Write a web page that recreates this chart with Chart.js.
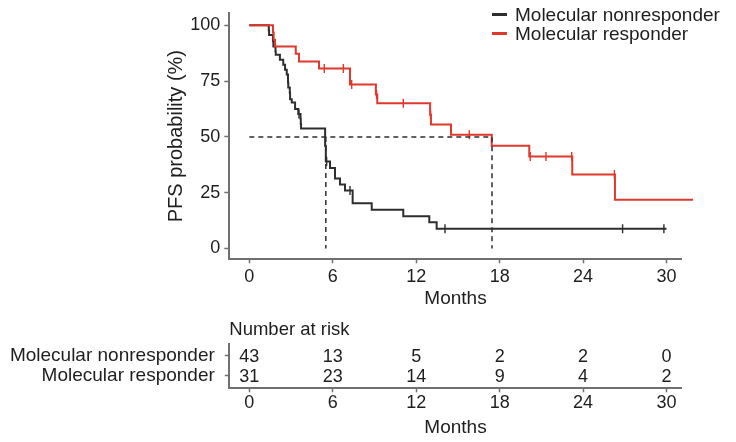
<!DOCTYPE html>
<html>
<head>
<meta charset="utf-8">
<script src="https://cdn.jsdelivr.net/npm/chart.js@4.4.1/dist/chart.umd.min.js"></script>
<style>
  html, body { margin: 0; padding: 0; background: #fff; }
  .box { position: absolute; left: 0; width: 736px; }
</style>
</head>
<body>
<div class="box" style="top:0;height:310px"><canvas id="km" width="736" height="310"></canvas></div>
<div class="box" style="top:310px;height:132px"><canvas id="risk" width="736" height="132"></canvas></div>
<script>
// groups, ticks
const groups = ["Molecular nonresponder", "Molecular responder"];
const monthTicks = [0, 6, 12, 18, 24, 30];
const pfsTicks = [0, 25, 50, 75, 100];

// KM steps (months, PFS %)
const nonTime = [0, 1.4, 1.42, 1.7, 1.73, 1.88, 1.9, 2.2, 2.44, 2.57, 2.69, 2.78, 2.8, 2.91, 2.93, 3.05, 3.29, 3.52, 3.68, 3.7, 3.72, 5.45, 5.5, 5.8, 6.16, 6.52, 6.88, 7.43, 8.8, 11.07, 12.94, 13.47, 30.0];
const nonPfs  = [100, 97.7, 95.6, 93.0, 90.5, 88.4, 86.8, 84.6, 82.3, 80.1, 77.9, 74.4, 72.1, 69.8, 66.9, 65.4, 62.5, 60.3, 58.1, 55.8, 53.7, 46.0, 39.0, 36.0, 31.3, 28.7, 26.0, 20.3, 17.3, 14.4, 11.7, 8.8, 8.8];
const nonCensTime = [3.57, 5.56, 7.24, 14.07, 26.84, 29.81];
const nonCensPfs  = [60.3, 39.0, 26.0, 8.8, 8.8, 8.8];

const respTime = [0, 1.7, 1.75, 1.85, 3.34, 3.57, 5.01, 7.24, 9.1, 9.2, 13.0, 13.06, 14.5, 17.43, 20.13, 23.22, 26.29, 31.9];
const respPfs  = [100, 96.8, 93.5, 90.5, 87.2, 83.8, 80.6, 73.5, 69.0, 65.1, 59.9, 55.6, 51.0, 46.0, 41.2, 33.1, 21.8, 21.8];
const respCensTime = [5.39, 6.76, 7.36, 9.15, 11.07, 13.03, 15.82, 20.2, 21.33, 23.18, 26.25];
const respCensPfs  = [80.6, 80.6, 73.5, 69.0, 65.1, 59.9, 51.0, 41.2, 41.2, 41.2, 33.1];

// median PFS guides
const medianPfs = 50;
const medianNon = 5.5;
const medianResp = 17.45;

// number at risk at monthTicks
const nonRisk  = [43, 13, 5, 2, 2, 0];
const respRisk = [31, 23, 14, 9, 4, 2];

const BLACK = "#2e2e2e", RED = "#e0382c", AXIS = "#707070", TEXT = "#1e1e1e";
const FONT = "'Liberation Sans', Arial, sans-serif";
Chart.defaults.font.family = FONT;
Chart.defaults.font.size = 18;
Chart.defaults.color = TEXT;

const pts = (xs, ys) => xs.map((x, i) => ({ x: x, y: ys[i] }));

function axisX(h, pad, titlePad) {
  return {
    type: "linear", min: -1.44, max: 31.09,
    afterBuildTicks: s => { s.ticks = monthTicks.map(v => ({ value: v })); },
    afterFit: s => { s.height = h; },
    ticks: { padding: pad, maxRotation: 0, autoSkip: false, color: TEXT },
    grid: { drawOnChartArea: false, tickLength: 4, tickWidth: 1.5, tickColor: AXIS },
    border: { color: AXIS, width: 2 },
    title: { display: true, text: "Months", color: TEXT, font: { size: 19 },
             padding: { top: 0, bottom: titlePad } }
  };
}

const legendPlugin = {
  id: "kmLegend",
  afterDraw(chart) {
    const ctx = chart.ctx;
    const items = [[groups[0], BLACK], [groups[1], RED]];
    ctx.save();
    ctx.font = "19px " + FONT;
    ctx.textBaseline = "middle";
    ctx.textAlign = "left";
    items.forEach((it, i) => {
      const y = 14.5 + i * 19;
      ctx.strokeStyle = it[1];
      ctx.lineWidth = 3;
      ctx.beginPath(); ctx.moveTo(492, y); ctx.lineTo(507, y); ctx.stroke();
      ctx.fillStyle = TEXT;
      ctx.fillText(it[0], 515, y + 1);
    });
    ctx.restore();
  }
};

const censor = (data, color, order) => ({
  data: data, showLine: false, pointStyle: "line", rotation: 90,
  pointRadius: 4.5, pointBorderWidth: 1.4, pointBorderColor: color, borderColor: color,
  order: order
});

new Chart(document.getElementById("km"), {
  type: "scatter",
  data: {
    datasets: [
      { data: [{ x: 0, y: medianPfs }, { x: medianResp, y: medianPfs }, { x: medianResp, y: 0 }],
        showLine: true, borderColor: BLACK, borderWidth: 1.5, borderDash: [5, 4], pointRadius: 0, order: 0 },
      { data: [{ x: medianNon, y: medianPfs }, { x: medianNon, y: 0 }],
        showLine: true, borderColor: BLACK, borderWidth: 1.5, borderDash: [5, 4], pointRadius: 0, order: 0 },
      { label: groups[1], data: pts(respTime, respPfs), showLine: true, stepped: true,
        borderColor: RED, borderWidth: 2, pointRadius: 0, clip: false, order: 1 },
      censor(pts(respCensTime, respCensPfs), RED, 1),
      { label: groups[0], data: pts(nonTime, nonPfs), showLine: true, stepped: true,
        borderColor: BLACK, borderWidth: 2, pointRadius: 0, order: 2 },
      censor(pts(nonCensTime, nonCensPfs), BLACK, 2)
    ]
  },
  options: {
    responsive: false, animation: false, devicePixelRatio: 1,
    layout: { padding: { left: 160, right: 54.3, top: 9.3, bottom: 0 } },
    plugins: { legend: { display: false }, tooltip: { enabled: false } },
    scales: {
      x: axisX(50.7, 3, 0),
      y: {
        min: -4.85, max: 105.5,
        afterBuildTicks: s => { s.ticks = pfsTicks.map(v => ({ value: v })); },
        afterFit: s => { s.width = 69.3; },
        ticks: { padding: 4, color: TEXT, font: { size: 18, lineHeight: 1 } },
        grid: { drawOnChartArea: false, tickLength: 5, tickWidth: 1.5, tickColor: AXIS },
        border: { color: AXIS, width: 2 },
        title: { display: true, text: "PFS probability (%)", color: TEXT, font: { size: 20 },
                 padding: { top: 4, bottom: 0 } }
      }
    }
  },
  plugins: [legendPlugin]
});

const riskPlugin = {
  id: "riskNumbers",
  afterDraw(chart) {
    const ctx = chart.ctx, xs = chart.scales.x, ys = chart.scales.y;
    ctx.save();
    ctx.font = "18px " + FONT;
    ctx.fillStyle = TEXT;
    ctx.textAlign = "center";
    ctx.textBaseline = "middle";
    [nonRisk, respRisk].forEach((row, i) => {
      row.forEach((n, j) => {
        ctx.fillText(String(n), xs.getPixelForValue(monthTicks[j]), ys.getPixelForValue(i) + 1);
      });
    });
    ctx.restore();
  }
};

new Chart(document.getElementById("risk"), {
  type: "scatter",
  data: { datasets: [] },
  options: {
    responsive: false, animation: false, devicePixelRatio: 1,
    layout: { padding: { left: 0, right: 54.3, top: 0, bottom: 0 } },
    plugins: {
      legend: { display: false }, tooltip: { enabled: false },
      title: { display: true, text: "Number at risk", align: "start", fullSize: false,
               color: TEXT, font: { size: 18.5, weight: "normal" }, padding: { top: 9, bottom: 3 } }
    },
    scales: {
      x: axisX(53.7, 0, 2.6),
      y: {
        reverse: true, min: -0.575, max: 1.64,
        afterBuildTicks: s => { s.ticks = [0, 1].map(v => ({ value: v })); },
        afterFit: s => { s.width = 229.3; },
        ticks: { padding: 10, color: TEXT, font: { size: 19, lineHeight: 1 },
                 callback: v => groups[v] },
        grid: { drawOnChartArea: false, tickLength: 4.5, tickWidth: 1.5, tickColor: AXIS },
        border: { color: AXIS, width: 2 }
      }
    }
  },
  plugins: [riskPlugin]
});
</script>
</body>
</html>
